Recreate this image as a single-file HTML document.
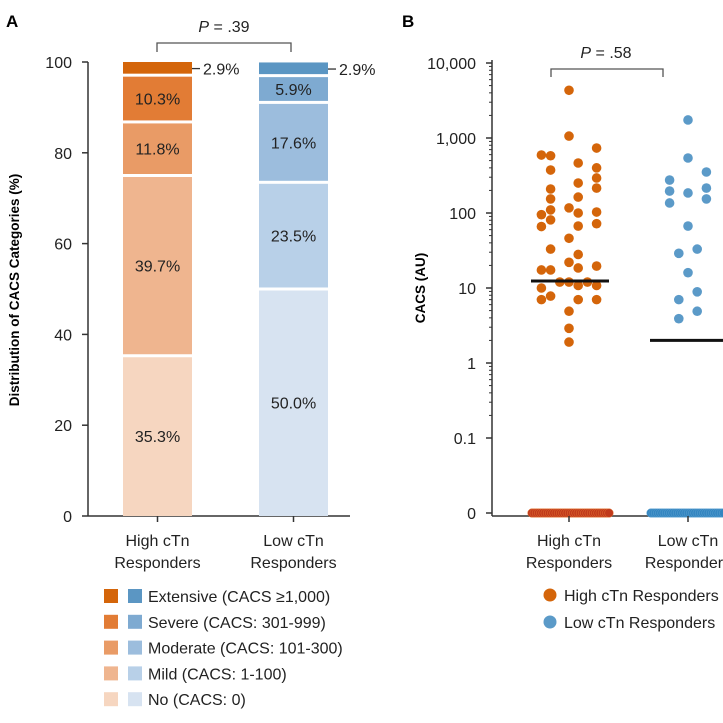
<!DOCTYPE html>
<html><head><meta charset="utf-8"><style>
html,body{margin:0;padding:0;background:#fff;}
svg{display:block;font-family:"Liberation Sans","DejaVu Sans",sans-serif;}
</style></head><body>
<svg id="chart" width="723" height="723" viewBox="0 0 723 723" xmlns="http://www.w3.org/2000/svg"></svg>
<script>
// ---------- Panel A data ----------
const groupsA = ["High cTn|Responders", "Low cTn|Responders"];
const categoriesA = ["No (CACS: 0)", "Mild (CACS: 1-100)", "Moderate (CACS: 101-300)", "Severe (CACS: 301-999)", "Extensive (CACS \u22651,000)"];
const highValues = [35.3, 39.7, 11.8, 10.3, 2.9];
const lowValues = [50.0, 23.5, 17.6, 5.9, 2.9];
const ticksA = [0, 20, 40, 60, 80, 100];
// ---------- Panel B data ----------
const ticksB = [0, 0.1, 1, 10, 100, 1000, 10000];
const tickLabelsB = ["0", "0.1", "1", "10", "100", "1,000", "10,000"];
const highCacs = [4330,1060,593,580,735,464,374,400,293,251,209,215,154,163,117,110,95,100,103,81,66,67,72,46,33,28,22,17.4,17.4,18.5,19.6,12,12,12,10,10.8,10.8,7.8,7,7,7,4.9,2.9,1.9];
const highCol = [0,0,-3,-2,3,1,-2,3,3,1,-2,3,-2,1,0,-2,-3,1,3,-2,-3,1,3,0,-2,1,0,-3,-2,1,3,-1,0,2,-3,1,3,-2,-3,1,3,0,0,0];
const lowCacs = [1740,541,275,352,196,185,215,154,136,67,29,33,16,8.9,7,4.9,3.9];
const lowCol = [0,0,-2,2,-2,0,2,2,-2,0,-1,1,0,1,-1,1,-1];
const highZeroCount = 36;
const lowZeroCount = 34;
const highMedian = 12.4;
const lowMedian = 2;

const svg = document.getElementById('chart');
const NS = "http://www.w3.org/2000/svg";
function mk(tag, attrs, parent) {
  const e = document.createElementNS(NS, tag);
  for (const k in attrs) e.setAttribute(k, attrs[k]);
  (parent || svg).appendChild(e);
  return e;
}
function txt(str, attrs, parent) { const t = mk('text', attrs, parent); t.textContent = str; return t; }

// ---------- Panel A ----------
const A = {x0: 88, yBase: 516, yTop: 62};
function yA(v) { return A.yBase - (v / 100) * (A.yBase - A.yTop); }
const orange = ["#f6d6c0", "#efb58f", "#e99b66", "#e27c35", "#d4650a"];
const blue = ["#d7e3f1", "#b8d0e8", "#9cbddd", "#7eaad1", "#5b96c3"];
const barX = [123, 259], barW = 69;

let l = txt("A", {x: 6, y: 27, 'font-size': 17, 'font-weight': 'bold'});
 

const axA = mk('g', {});
 
mk('line', {x1: A.x0, y1: A.yTop, x2: A.x0, y2: A.yBase, stroke: '#333', 'stroke-width': 1.5}, axA);
mk('line', {x1: A.x0, y1: A.yBase, x2: 350, y2: A.yBase, stroke: '#333', 'stroke-width': 1.5}, axA);
ticksA.forEach(t => {
  mk('line', {x1: A.x0 - 6, y1: yA(t), x2: A.x0, y2: yA(t), stroke: '#333', 'stroke-width': 1.5}, axA);
  txt(String(t), {x: 72, y: yA(t) + 6, 'font-size': 16, 'text-anchor': 'end', fill: '#222'}, axA);
});
l = txt("Distribution of CACS Categories (%)", {x: 0, y: 0, 'font-size': 13.5, 'font-weight': 'bold', 'text-anchor': 'middle', transform: 'translate(19,290) rotate(-90)'});
 

[highValues, lowValues].forEach((vals, gi) => {
  const cols = gi === 0 ? orange : blue;
  let cum = 0;
  vals.forEach((v, ci) => {
    const yb = yA(cum), yt = yA(cum + v);
    const r = mk('rect', {x: barX[gi], y: yt + (ci === vals.length - 1 ? 0 : 1.5), width: barW, height: Math.max(0, yb - yt - (ci === 0 ? 0 : 1.5) - (ci === vals.length - 1 ? 0 : 1.5)), fill: cols[ci]});
    
    
    const label = v.toFixed(1) + '%';
    if (ci === vals.length - 1) {
      mk('line', {x1: barX[gi] + barW, y1: (yt + yb) / 2, x2: barX[gi] + barW + 8, y2: (yt + yb) / 2, stroke: '#333', 'stroke-width': 1.3});
      const t = txt(label, {x: barX[gi] + barW + 11, y: (yt + yb) / 2 + 6, 'font-size': 16, fill: '#222'});
       
    } else {
      const t = txt(label, {x: barX[gi] + barW / 2, y: (yt + yb) / 2 + 6, 'font-size': 16, 'text-anchor': 'middle', fill: '#222'});
       
    }
    cum += v;
  });
  const parts = groupsA[gi].split('|');
  const cx = barX[gi] + barW / 2;
  mk('line', {x1: cx, y1: A.yBase, x2: cx, y2: A.yBase + 6, stroke: '#333', 'stroke-width': 1.5});
  const g = txt('', {x: cx, y: 546, 'font-size': 16, 'text-anchor': 'middle', fill: '#222'});
   
  mk('tspan', {x: cx, dy: 0}, g).textContent = parts[0];
  mk('tspan', {x: cx, dy: 22}, g).textContent = parts[1];
});
// P bracket A
const brA = mk('g', {});
 
mk('path', {d: 'M157,52 V43 H291 V52', fill: 'none', stroke: '#555', 'stroke-width': 1.3}, brA);
const pA = txt('', {x: 224, y: 32, 'font-size': 16, 'text-anchor': 'middle', fill: '#222'}, brA);
mk('tspan', {'font-style': 'italic'}, pA).textContent = 'P';
mk('tspan', {}, pA).textContent = ' = .39';

// Legend A
for (let i = 0; i < 5; i++) {
  const ci = 4 - i, y = 596 + i * 25.8;
  const g = mk('g', {});
  
  
  mk('rect', {x: 104, y: y - 7, width: 14, height: 14, fill: orange[ci]}, g);
  mk('rect', {x: 128, y: y - 7, width: 14, height: 14, fill: blue[ci]}, g);
  txt(categoriesA[ci], {x: 148, y: y + 6, 'font-size': 16, fill: '#222'}, g);
}

// ---------- Panel B ----------
const B = {x0: 492, y0: 513, yOne: 363, dec: 75};
function yB(v) { return v <= 0 ? B.y0 : B.yOne - Math.log10(v) * B.dec; }
const centers = [569, 688];
l = txt("B", {x: 402, y: 27, 'font-size': 17, 'font-weight': 'bold'});
 
const axB = mk('g', {});
 
mk('line', {x1: B.x0, y1: 60, x2: B.x0, y2: 516, stroke: '#333', 'stroke-width': 1.5}, axB);
mk('line', {x1: B.x0, y1: 516, x2: 723, y2: 516, stroke: '#333', 'stroke-width': 1.5}, axB);
ticksB.forEach((t, i) => {
  mk('line', {x1: B.x0 - 6, y1: yB(t), x2: B.x0, y2: yB(t), stroke: '#333', 'stroke-width': 1.5}, axB);
  txt(tickLabelsB[i], {x: 476, y: yB(t) + 6, 'font-size': 16, 'text-anchor': 'end', fill: '#222'}, axB);
  if (t >= 0.1 && t < 10000) {
    for (let m = 2; m < 10; m++) {
      const yy = yB(t * m);
      mk('line', {x1: B.x0 - 3, y1: yy, x2: B.x0, y2: yy, stroke: '#333', 'stroke-width': 1}, axB);
    }
  }
});
l = txt("CACS (AU)", {x: 0, y: 0, 'font-size': 13.5, 'font-weight': 'bold', 'text-anchor': 'middle', transform: 'translate(425,288) rotate(-90)'});
 

const dotColors = ['#d4650a', '#5b9ac8'];
const zeroColors = ['#c0391b', '#3385c0'];
[[highCacs, highCol, highZeroCount, highMedian], [lowCacs, lowCol, lowZeroCount, lowMedian]].forEach((grp, gi) => {
  const [vals, colsIdx, zc, med] = grp;
  const cx = centers[gi];
  for (let k = 0; k < zc; k++) {
    const c = mk('circle', {cx: cx - 37 + k * 2.2, cy: B.y0, r: 4.3, fill: zeroColors[gi], stroke: gi === 0 ? '#e07030' : '#5aa0d0', 'stroke-width': 0.5});
    
    
  }
  vals.forEach((v, k) => {
    const c = mk('circle', {cx: cx + colsIdx[k] * 9.2, cy: yB(v), r: 4.8, fill: dotColors[gi]});
    
    
  });
  const ml = mk('line', {x1: cx - 38, y1: yB(med), x2: cx + 40, y2: yB(med), stroke: '#111', 'stroke-width': 3});
  
  
  mk('line', {x1: cx, y1: 516, x2: cx, y2: 522, stroke: '#333', 'stroke-width': 1.5});
  const parts = groupsA[gi].split('|');
  const g = txt('', {x: cx, y: 546, 'font-size': 16, 'text-anchor': 'middle', fill: '#222'});
   
  mk('tspan', {x: cx, dy: 0}, g).textContent = parts[0];
  mk('tspan', {x: cx, dy: 22}, g).textContent = parts[1];
});
const brB = mk('g', {});
 
mk('path', {d: 'M551,77 V69 H663 V77', fill: 'none', stroke: '#555', 'stroke-width': 1.3}, brB);
const pB = txt('', {x: 606, y: 58, 'font-size': 16, 'text-anchor': 'middle', fill: '#222'}, brB);
mk('tspan', {'font-style': 'italic'}, pB).textContent = 'P';
mk('tspan', {}, pB).textContent = ' = .58';

['High cTn Responders', 'Low cTn Responders'].forEach((s, i) => {
  const g = mk('g', {});
  
  
  const y = 595 + i * 27;
  mk('circle', {cx: 550, cy: y, r: 6.5, fill: dotColors[i]}, g);
  txt(s, {x: 564, y: y + 6, 'font-size': 16, fill: '#222'}, g);
});
</script>
</body></html>
